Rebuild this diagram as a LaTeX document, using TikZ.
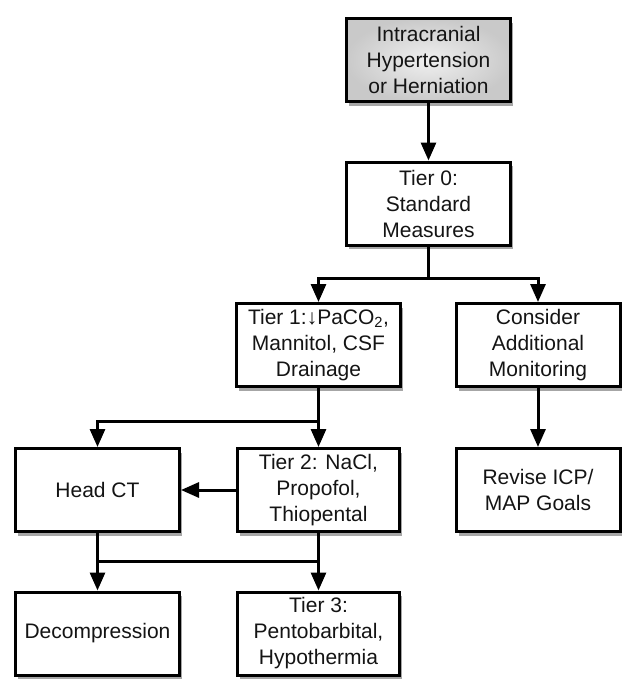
\documentclass[tikz,border=0pt]{standalone}
\usepackage{fontspec}
\setmainfont{Liberation Sans}
\usetikzlibrary{arrows.meta,shadows}
\begin{document}
\begin{tikzpicture}[x=1pt,y=-1pt,
  box/.style={draw, line width=3pt, minimum width=164pt, minimum height=83pt,
    inner sep=2pt, align=center, font=\fontsize{21}{26}\selectfont, fill=white,
    text=black!92,
    drop shadow={shadow xshift=2.5pt, shadow yshift=-4pt, opacity=0.35, fill=black}},
  topbox/.style={box, inner color=gray!12, outer color=gray!42},
  link/.style={line width=3pt},
  arr/.style={link, -{Triangle[width=15pt,length=18pt]}}]
\useasboundingbox (0,0) rectangle (622,681);
\node[topbox] (top) at (428.5,60) {Intracranial\\Hypertension\\or Herniation};
\node[box] (t0) at (428.5,203.5) {Tier 0:\\Standard\\Measures};
\node[box] (t1) at (318.5,345) {Tier 1:↓PaCO\textsubscript{2},\\Mannitol, CSF\\Drainage};
\node[box] (cons) at (538,345) {Consider\\Additional\\Monitoring};
\node[box] (head) at (97.5,490) {Head CT};
\node[box, minimum width=162pt] (t2) at (318.5,490) {Tier 2: NaCl,\\Propofol,\\Thiopental};
\node[box] (rev) at (538,490) {Revise ICP/\\MAP Goals};
\node[box] (dec) at (97.5,633.5) {Decompression};
\node[box, minimum width=162pt] (t3) at (318.5,633.5) {Tier 3:\\Pentobarbital,\\Hypothermia};
% junctions
\coordinate (j0) at (428.5,278);
\coordinate (j0l) at (318.5,278);
\coordinate (j0r) at (538,278);
\coordinate (j1) at (318.5,421);
\coordinate (j1l) at (97.5,421);
\coordinate (j2) at (318.5,561);
\coordinate (j2l) at (97.5,561);
% connectors
\draw[arr] (top) -- (t0);
\draw[link] (t0.south) -- (j0);
\draw[link, line cap=rect] (j0l) -- (j0r);
\draw[arr] (j0l) -- (t1.north);
\draw[arr] (j0r) -- (cons.north);
\draw[arr] (cons) -- (rev);
\draw[link] (t1.south) -- (j1);
\draw[link, line cap=rect] (j1l) -- (j1);
\draw[arr] (j1) -- (t2.north);
\draw[arr] (j1l) -- (head.north);
\draw[arr] (t2.west) -- (head.east);
\draw[link] (head.south) -- (j2l);
\draw[link] (t2.south) -- (j2);
\draw[link, line cap=rect] (j2l) -- (j2);
\draw[arr] (j2) -- (t3.north);
\draw[arr] (j2l) -- (dec.north);
\end{tikzpicture}
\end{document}
